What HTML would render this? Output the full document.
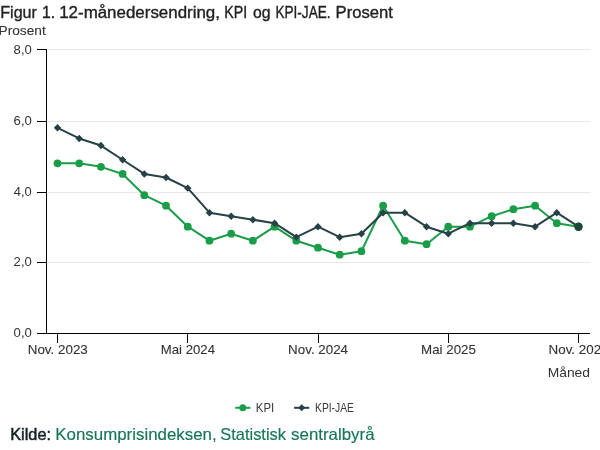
<!DOCTYPE html><html><head><meta charset="utf-8"><style>html,body{margin:0;padding:0;background:#fff;overflow:hidden}svg{display:block;will-change:transform}</style></head><body>
<svg width="600" height="450" viewBox="0 0 600 450" font-family="Liberation Sans, sans-serif">
<rect width="600" height="450" fill="#fff"/>
<line x1="48" y1="262.5" x2="590.5" y2="262.5" stroke="#e6e6e6" stroke-width="1"/>
<line x1="48" y1="192.5" x2="590.5" y2="192.5" stroke="#e6e6e6" stroke-width="1"/>
<line x1="48" y1="121.5" x2="590.5" y2="121.5" stroke="#e6e6e6" stroke-width="1"/>
<line x1="48" y1="49.5" x2="590.5" y2="49.5" stroke="#e6e6e6" stroke-width="1"/>
<line x1="46.5" y1="49" x2="46.5" y2="334" stroke="#000" stroke-width="1"/>
<line x1="46" y1="333.5" x2="590" y2="333.5" stroke="#000" stroke-width="1"/>
<line x1="37" y1="333.5" x2="47" y2="333.5" stroke="#000" stroke-width="1"/>
<line x1="37" y1="262.5" x2="47" y2="262.5" stroke="#000" stroke-width="1"/>
<line x1="37" y1="192.5" x2="47" y2="192.5" stroke="#000" stroke-width="1"/>
<line x1="37" y1="121.5" x2="47" y2="121.5" stroke="#000" stroke-width="1"/>
<line x1="37" y1="49.5" x2="47" y2="49.5" stroke="#000" stroke-width="1"/>
<line x1="57.5" y1="333" x2="57.5" y2="343" stroke="#000" stroke-width="1"/>
<line x1="187.5" y1="333" x2="187.5" y2="343" stroke="#000" stroke-width="1"/>
<line x1="318.5" y1="333" x2="318.5" y2="343" stroke="#000" stroke-width="1"/>
<line x1="448.5" y1="333" x2="448.5" y2="343" stroke="#000" stroke-width="1"/>
<line x1="578.5" y1="333" x2="578.5" y2="343" stroke="#000" stroke-width="1"/>
<text x="0.26" y="17.7" font-size="16.5" font-weight="normal" fill="#222222" stroke="#222222" stroke-width="0.35" textLength="36.66" lengthAdjust="spacingAndGlyphs">Figur</text>
<text x="41.88" y="17.7" font-size="16.5" font-weight="normal" fill="#222222" stroke="#222222" stroke-width="0.35" textLength="13.20" lengthAdjust="spacingAndGlyphs">1.</text>
<text x="59.19" y="17.7" font-size="16.5" font-weight="normal" fill="#222222" stroke="#222222" stroke-width="0.35" textLength="160.77" lengthAdjust="spacingAndGlyphs">12-månedersendring,</text>
<text x="224.30" y="17.7" font-size="16.5" font-weight="normal" fill="#222222" stroke="#222222" stroke-width="0.35" textLength="22.95" lengthAdjust="spacingAndGlyphs">KPI</text>
<text x="252.90" y="17.7" font-size="16.5" font-weight="normal" fill="#222222" stroke="#222222" stroke-width="0.35" textLength="17.59" lengthAdjust="spacingAndGlyphs">og</text>
<text x="275.39" y="17.7" font-size="16.5" font-weight="normal" fill="#222222" stroke="#222222" stroke-width="0.35" textLength="55.22" lengthAdjust="spacingAndGlyphs">KPI-JAE.</text>
<text x="335.61" y="17.7" font-size="16.5" font-weight="normal" fill="#222222" stroke="#222222" stroke-width="0.35" textLength="57.34" lengthAdjust="spacingAndGlyphs">Prosent</text>
<text x="-1.50" y="34.8" font-size="13" font-weight="normal" fill="#333333" stroke="#333333" stroke-width="0.1" textLength="47.22" lengthAdjust="spacingAndGlyphs">Prosent</text>
<text x="13.60" y="53.75" font-size="13" font-weight="normal" fill="#333333" textLength="18.24" lengthAdjust="spacingAndGlyphs">8,0</text>
<text x="13.60" y="124.9" font-size="13" font-weight="normal" fill="#333333" textLength="18.24" lengthAdjust="spacingAndGlyphs">6,0</text>
<text x="13.85" y="195.9" font-size="13" font-weight="normal" fill="#333333" textLength="17.97" lengthAdjust="spacingAndGlyphs">4,0</text>
<text x="13.60" y="265.9" font-size="13" font-weight="normal" fill="#333333" textLength="18.24" lengthAdjust="spacingAndGlyphs">2,0</text>
<text x="13.60" y="336.9" font-size="13" font-weight="normal" fill="#333333" textLength="18.24" lengthAdjust="spacingAndGlyphs">0,0</text>
<text x="27.72" y="353.7" font-size="13" font-weight="normal" fill="#333333" stroke="#333333" stroke-width="0.1" textLength="60.09" lengthAdjust="spacingAndGlyphs">Nov. 2023</text>
<text x="160.74" y="353.7" font-size="13" font-weight="normal" fill="#333333" stroke="#333333" stroke-width="0.1" textLength="54.25" lengthAdjust="spacingAndGlyphs">Mai 2024</text>
<text x="288.12" y="353.7" font-size="13" font-weight="normal" fill="#333333" stroke="#333333" stroke-width="0.1" textLength="59.93" lengthAdjust="spacingAndGlyphs">Nov. 2024</text>
<text x="421.02" y="353.7" font-size="13" font-weight="normal" fill="#333333" stroke="#333333" stroke-width="0.1" textLength="54.92" lengthAdjust="spacingAndGlyphs">Mai 2025</text>
<text x="548.52" y="353.7" font-size="13" font-weight="normal" fill="#333333" stroke="#333333" stroke-width="0.1" textLength="60.09" lengthAdjust="spacingAndGlyphs">Nov. 2025</text>
<text x="547.74" y="376.5" font-size="13" font-weight="normal" fill="#333333" textLength="42.26" lengthAdjust="spacingAndGlyphs">Måned</text>
<text x="255.85" y="411.75" font-size="12" font-weight="normal" fill="#3a3a3a" textLength="18.39" lengthAdjust="spacingAndGlyphs">KPI</text>
<text x="315.04" y="411.75" font-size="12" font-weight="normal" fill="#3a3a3a" textLength="38.86" lengthAdjust="spacingAndGlyphs">KPI-JAE</text>
<text x="10.21" y="439.9" font-size="16.5" font-weight="normal" fill="#162327" stroke="#162327" stroke-width="0.5" textLength="40.85" lengthAdjust="spacingAndGlyphs">Kilde:</text>
<text x="55.30" y="439.9" font-size="16.5" font-weight="normal" fill="#157656" stroke="#157656" stroke-width="0.15" textLength="161.36" lengthAdjust="spacingAndGlyphs">Konsumprisindeksen,</text>
<text x="220.33" y="439.9" font-size="16.5" font-weight="normal" fill="#157656" stroke="#157656" stroke-width="0.15" textLength="65.63" lengthAdjust="spacingAndGlyphs">Statistisk</text>
<text x="291.06" y="439.9" font-size="16.5" font-weight="normal" fill="#157656" stroke="#157656" stroke-width="0.15" textLength="83.53" lengthAdjust="spacingAndGlyphs">sentralbyrå</text>
<polyline points="57.50,163.30 79.21,163.30 100.92,166.85 122.62,173.95 144.33,195.20 166.04,205.70 187.75,226.70 209.46,240.70 231.17,233.70 252.88,240.70 274.58,226.70 296.29,240.70 318.00,247.70 339.71,254.70 361.42,251.20 383.12,205.70 404.83,240.70 426.54,244.20 448.25,226.70 469.96,226.70 491.67,216.20 513.38,209.20 535.08,205.70 556.79,223.20 578.50,226.70" fill="none" stroke="#1a9d49" stroke-width="2" stroke-linejoin="round" stroke-linecap="round"/>
<circle cx="57.50" cy="163.30" r="3.9" fill="#1a9d49"/>
<circle cx="79.21" cy="163.30" r="3.9" fill="#1a9d49"/>
<circle cx="100.92" cy="166.85" r="3.9" fill="#1a9d49"/>
<circle cx="122.62" cy="173.95" r="3.9" fill="#1a9d49"/>
<circle cx="144.33" cy="195.20" r="3.9" fill="#1a9d49"/>
<circle cx="166.04" cy="205.70" r="3.9" fill="#1a9d49"/>
<circle cx="187.75" cy="226.70" r="3.9" fill="#1a9d49"/>
<circle cx="209.46" cy="240.70" r="3.9" fill="#1a9d49"/>
<circle cx="231.17" cy="233.70" r="3.9" fill="#1a9d49"/>
<circle cx="252.88" cy="240.70" r="3.9" fill="#1a9d49"/>
<circle cx="274.58" cy="226.70" r="3.9" fill="#1a9d49"/>
<circle cx="296.29" cy="240.70" r="3.9" fill="#1a9d49"/>
<circle cx="318.00" cy="247.70" r="3.9" fill="#1a9d49"/>
<circle cx="339.71" cy="254.70" r="3.9" fill="#1a9d49"/>
<circle cx="361.42" cy="251.20" r="3.9" fill="#1a9d49"/>
<circle cx="383.12" cy="205.70" r="3.9" fill="#1a9d49"/>
<circle cx="404.83" cy="240.70" r="3.9" fill="#1a9d49"/>
<circle cx="426.54" cy="244.20" r="3.9" fill="#1a9d49"/>
<circle cx="448.25" cy="226.70" r="3.9" fill="#1a9d49"/>
<circle cx="469.96" cy="226.70" r="3.9" fill="#1a9d49"/>
<circle cx="491.67" cy="216.20" r="3.9" fill="#1a9d49"/>
<circle cx="513.38" cy="209.20" r="3.9" fill="#1a9d49"/>
<circle cx="535.08" cy="205.70" r="3.9" fill="#1a9d49"/>
<circle cx="556.79" cy="223.20" r="3.9" fill="#1a9d49"/>
<circle cx="578.50" cy="226.70" r="3.9" fill="#1a9d49"/>
<polyline points="57.50,127.80 79.21,138.45 100.92,145.55 122.62,159.75 144.33,173.95 166.04,177.50 187.75,188.15 209.46,212.70 231.17,216.20 252.88,219.70 274.58,223.20 296.29,237.20 318.00,226.70 339.71,237.20 361.42,233.70 383.12,212.70 404.83,212.70 426.54,226.70 448.25,233.70 469.96,223.20 491.67,223.20 513.38,223.20 535.08,226.70 556.79,212.70 578.50,226.70" fill="none" stroke="#274247" stroke-width="2" stroke-linejoin="round" stroke-linecap="round"/>
<path d="M57.50 124.10L61.20 127.80L57.50 131.50L53.80 127.80Z" fill="#274247"/>
<path d="M79.21 134.75L82.91 138.45L79.21 142.15L75.51 138.45Z" fill="#274247"/>
<path d="M100.92 141.85L104.62 145.55L100.92 149.25L97.22 145.55Z" fill="#274247"/>
<path d="M122.62 156.05L126.33 159.75L122.62 163.45L118.92 159.75Z" fill="#274247"/>
<path d="M144.33 170.25L148.03 173.95L144.33 177.65L140.63 173.95Z" fill="#274247"/>
<path d="M166.04 173.80L169.74 177.50L166.04 181.20L162.34 177.50Z" fill="#274247"/>
<path d="M187.75 184.45L191.45 188.15L187.75 191.85L184.05 188.15Z" fill="#274247"/>
<path d="M209.46 209.00L213.16 212.70L209.46 216.40L205.76 212.70Z" fill="#274247"/>
<path d="M231.17 212.50L234.87 216.20L231.17 219.90L227.47 216.20Z" fill="#274247"/>
<path d="M252.88 216.00L256.57 219.70L252.88 223.40L249.18 219.70Z" fill="#274247"/>
<path d="M274.58 219.50L278.28 223.20L274.58 226.90L270.88 223.20Z" fill="#274247"/>
<path d="M296.29 233.50L299.99 237.20L296.29 240.90L292.59 237.20Z" fill="#274247"/>
<path d="M318.00 223.00L321.70 226.70L318.00 230.40L314.30 226.70Z" fill="#274247"/>
<path d="M339.71 233.50L343.41 237.20L339.71 240.90L336.01 237.20Z" fill="#274247"/>
<path d="M361.42 230.00L365.12 233.70L361.42 237.40L357.72 233.70Z" fill="#274247"/>
<path d="M383.12 209.00L386.82 212.70L383.12 216.40L379.43 212.70Z" fill="#274247"/>
<path d="M404.83 209.00L408.53 212.70L404.83 216.40L401.13 212.70Z" fill="#274247"/>
<path d="M426.54 223.00L430.24 226.70L426.54 230.40L422.84 226.70Z" fill="#274247"/>
<path d="M448.25 230.00L451.95 233.70L448.25 237.40L444.55 233.70Z" fill="#274247"/>
<path d="M469.96 219.50L473.66 223.20L469.96 226.90L466.26 223.20Z" fill="#274247"/>
<path d="M491.67 219.50L495.37 223.20L491.67 226.90L487.97 223.20Z" fill="#274247"/>
<path d="M513.38 219.50L517.08 223.20L513.38 226.90L509.68 223.20Z" fill="#274247"/>
<path d="M535.08 223.00L538.78 226.70L535.08 230.40L531.38 226.70Z" fill="#274247"/>
<path d="M556.79 209.00L560.49 212.70L556.79 216.40L553.09 212.70Z" fill="#274247"/>
<path d="M578.50 223.00L582.20 226.70L578.50 230.40L574.80 226.70Z" fill="#274247"/>
<circle cx="578.50" cy="226.70" r="4.2" fill="#1e4535"/>
<line x1="235.2" y1="407.8" x2="250.4" y2="407.8" stroke="#1a9d49" stroke-width="2"/><circle cx="242.8" cy="407.8" r="3.5" fill="#1a9d49"/>
<line x1="294.1" y1="407.8" x2="309.3" y2="407.8" stroke="#274247" stroke-width="2"/><path d="M301.7 404.3L305.2 407.8L301.7 411.3L298.2 407.8Z" fill="#274247"/>
</svg></body></html>
